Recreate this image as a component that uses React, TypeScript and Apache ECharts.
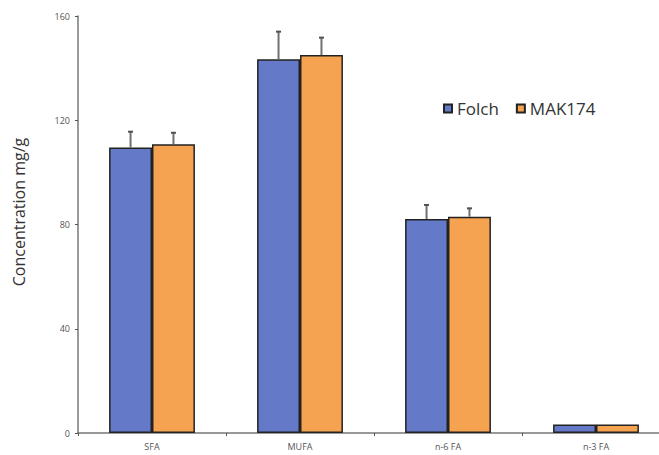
import React, { useEffect, useRef } from "react";
import * as echarts from "echarts";

const categories = ["SFA", "MUFA", "n-6 FA", "n-3 FA"];
const folch = [109.5, 143.4, 82.1, 3.3];
const folchErr = [6.1, 10.6, 5.4, 0];
const mak = [110.8, 145.0, 83.0, 3.3];
const makErr = [4.4, 6.7, 3.2, 0];
const yTicks = [0, 40, 80, 120, 160];

const BLUE = "#6479c7";
const ORANGE = "#f5a350";
const GAP = 0.42;

function errSeries(vals: number[], errs: number[], side: number) {
  return {
    type: "custom",
    silent: true,
    z: 5,
    data: vals.map((v, i) => [i, v, v + errs[i]]),
    encode: { x: 0, y: 2 },
    renderItem: (params: any, api: any) => {
      const band = api.size([1, 0])[0];
      const w = (band * (1 - GAP)) / 2;
      const c = api.coord([api.value(0), api.value(1)]);
      const t = api.coord([api.value(0), api.value(2)]);
      const x = c[0] + side * (w / 2);
      if (api.value(2) - api.value(1) <= 0) return { type: "group", children: [] };
      return {
        type: "group",
        children: [
          { type: "line", shape: { x1: x, y1: c[1], x2: x, y2: t[1] }, style: { stroke: "#707070", lineWidth: 2 } },
          { type: "line", shape: { x1: x - 2.5, y1: t[1], x2: x + 2.5, y2: t[1] }, style: { stroke: "#505050", lineWidth: 2 } },
        ],
      };
    },
  };
}

export default function App() {
  const ref = useRef<HTMLDivElement>(null);
  useEffect(() => {
    const chart = echarts.init(ref.current!, null, { renderer: "svg" });
    chart.setOption({
      animation: false,
      textStyle: { fontFamily: "Open Sans" },
      grid: { left: 78, right: 12, top: 16, bottom: 22 },
      legend: {
        left: 438,
        top: 95,
        icon: "rect",
        itemWidth: 8,
        itemHeight: 8,
        itemGap: 17,
        textStyle: { fontSize: 17, color: "#333", fontFamily: "Open Sans" },
        data: ["Folch", "MAK174"],
      },
      xAxis: {
        type: "category",
        data: categories,
        axisLine: { lineStyle: { color: "#777", width: 1.5 } },
        axisTick: { show: true, length: 3, lineStyle: { color: "#555" } },
        axisLabel: { fontSize: 9, color: "#555", margin: 9 },
      },
      yAxis: {
        type: "value",
        min: 0,
        max: 160,
        interval: 40,
        splitLine: { show: false },
        axisLine: { show: true, lineStyle: { color: "#777", width: 1.5 } },
        axisTick: { show: true, length: 3, lineStyle: { color: "#555" } },
        axisLabel: {
          fontSize: 9,
          color: "#555",
          margin: 8,
          formatter: (v: number) => (yTicks.includes(v) ? String(v) : ""),
        },
      },
      series: [
        {
          name: "Folch",
          type: "bar",
          data: folch,
          barGap: "0%",
          barCategoryGap: "42%",
          itemStyle: { color: BLUE, borderColor: "#222", borderWidth: 1.5 },
        },
        {
          name: "MAK174",
          type: "bar",
          data: mak,
          barGap: "0%",
          barCategoryGap: "42%",
          itemStyle: { color: ORANGE, borderColor: "#222", borderWidth: 1.5 },
        },
        errSeries(folch, folchErr, -1),
        errSeries(mak, makErr, 1),
      ],
      graphic: [
        {
          type: "text",
          x: 19,
          y: 212,
          rotation: Math.PI / 2,
          style: {
            text: "Concentration mg/g",
            fontSize: 16,
            fill: "#333",
            fontFamily: "Open Sans",
            align: "center",
            verticalAlign: "middle",
          },
        },
      ],
    });
    return () => chart.dispose();
  }, []);
  return (
    <div style={{ position: "fixed", left: 0, top: 0, width: 659, height: 455, overflow: "hidden", background: "#fff" }}>
      <div ref={ref} style={{ width: 682, height: 455 }} />
    </div>
  );
}
